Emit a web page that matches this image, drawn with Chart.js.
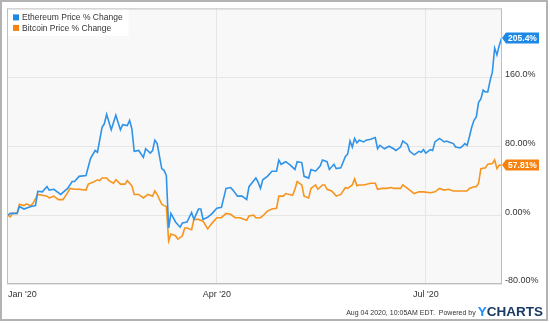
<!DOCTYPE html>
<html><head><meta charset="utf-8">
<script src="https://cdn.jsdelivr.net/npm/chart.js@4"></script>
<style>html,body{margin:0;padding:0;background:#fff;}canvas{display:block;}</style>
</head><body>
<canvas id="c" width="550" height="323"></canvas>
<script>
// Day index counted from Jan 1 2020
const ethDays = [0,1,4,5,7,10,12,13,15,17,18,20,23,26,28,29,31,34,36,38,39,41,42,43,45,47,49,50,52,53,54,55,57,59,60,62,63,64,65,67,68,69,70,71,73,75,76,78,80,81,83,84,85,87,89,91,93,95,97,98,100,102,104,105,108,109,110,111,113,115,117,118,119,121,123,125,126,128,129,131,132,134,136,137,139,140,142,143,145,147,148,149,150,151,152,153,155,156,158,160,161,162,164,166,168,169,171,172,174,175,177,179,180,181,182,184,185,186,188,190,191,192,194,195,197,198,199,200,201,202,203,204,205,206,207,208,209,210,211,212,213,214,215];
const ethValues = [0,2,2,10,7,10,11,27.6,27,33,29,30,24,31,39,39,45,46,66,75,73,102,106,117,99,116,99,105,104,110,100,74,75,67,77,72,75,87,83,54,52,46,-15,2,-8,-14,-9,-8,3,-5,7,7,-5,-2.6,2,8,9,31,32,29,22,22,18,33,43,38,31,41,45,51,51,64,59,62,58,53,62,61,45,43,53,51,57,64,62,53,59,54,55,68,71,86,79,89,84,87,85,87,88,90,77,81,77,80,77,75,79,86,82,74,70,74,73,76,72,76,75,85,89,85,86,85,83,79,78,80,83,81,91,102,110,114,131,135,145,143,143,156,166,194,186,197,205.4];
const btcDays = [0,1,2,4,5,7,8,10,11,13,15,17,18,20,22,24,26,27,29,31,34,35,37,39,40,41,43,44,46,47,49,51,52,54,55,57,59,61,63,64,65,67,68,69,70,71,73,74,76,77,78,80,81,83,85,87,89,91,93,95,97,99,101,104,105,107,108,110,111,113,115,117,118,120,121,124,125,126,128,129,131,132,134,135,137,138,139,141,143,145,147,148,150,151,152,153,155,158,160,161,163,165,167,168,171,172,174,175,177,179,181,184,186,188,190,192,194,197,200,201,203,204,205,206,208,209,211,212,213,214,215];
const btcValues = [0,-2,2,2,12.6,11,13,11,14,24,23,22,20,22,18,18,26,31,30,30,29,36,38,41,40,43,43,40,37,41,36,36,40,34,24,24,20,24,22,28,24,12.6,11,10,-30,-22,-24,-28,-24,-15,-15,-17,-5,-5,-7,-16,-9,-3,-3,2,1,-3,-3,-6,-1,0,-3,-3,-1,4.6,7,8,22,22,25,23,30,39,35,22,20,31,35,30,35,35,30,28,22,24,32,31,35,42,34,35,35,37,37,30,31,31,32,31,31,35,31,29,25,27,27,26,27,31,29,30,28,28,28,31,33,33,37,54,55,59,60,64,54,58,57.81];
const seriesNames = ['Ethereum Price % Change', 'Bitcoin Price % Change'];
const endLabels = ['205.4%', '57.81%'];
const xTickDays = [0, 91, 182, 215];
const xTickLabels = ["Jan '20", "Apr '20", "Jul '20", ""];
const yTickValues = [-80, 0, 80, 160];
const yTickLabels = ['-80.00%', '0.00%', '80.00%', '160.0%'];
const footerText = 'Aug 04 2020, 10:05AM EDT.  Powered by';

const lineColors = ['#2f93e8', '#f7941d'];
const badgeColors = ['#1e88e5', '#f5820f'];
const FONT = '"Liberation Sans", Arial, sans-serif';

const toPts = (d, v) => d.map((x, i) => ({x: x, y: v[i]}));

const decor = {
  id: 'decor',
  beforeDraw(chart) {
    const {ctx, chartArea: a} = chart;
    ctx.save();
    ctx.fillStyle = '#ffffff';
    ctx.fillRect(0, 0, chart.width, chart.height);
    ctx.fillStyle = '#f8f8f8';
    ctx.fillRect(a.left, a.top, a.right - a.left, a.bottom - a.top);
    ctx.restore();
  },
  afterDatasetsDraw(chart) {
    const {ctx, chartArea: a} = chart;
    ctx.save();
    // legend
    ctx.fillStyle = '#ffffff';
    ctx.fillRect(a.left + 0.5, a.top + 0.5, 121, 27);
    ctx.font = '8.5px ' + FONT;
    ctx.textBaseline = 'middle';
    ctx.textAlign = 'left';
    chart.data.datasets.forEach((ds, i) => {
      const y = a.top + 9 + i * 10.5;
      ctx.fillStyle = badgeColors[i];
      ctx.fillRect(a.left + 6, y - 3, 6, 6);
      ctx.fillStyle = '#333333';
      ctx.fillText(ds.label, a.left + 15, y + 0.5);
    });
    // plot border
    ctx.strokeStyle = '#bdbdbd';
    ctx.lineWidth = 1;
    ctx.strokeRect(a.left + 0.5, a.top + 0.5, a.right - a.left - 1, a.bottom - a.top - 1);
    // end badges
    const ys = chart.scales.y;
    chart.data.datasets.forEach((ds, i) => {
      const last = ds.data[ds.data.length - 1].y;
      const y = Math.round(ys.getPixelForValue(last));
      const x = a.right;
      const h = 11, w = 33;
      ctx.fillStyle = badgeColors[i];
      ctx.beginPath();
      ctx.moveTo(x, y);
      ctx.lineTo(x + 4, y - h / 2);
      ctx.lineTo(x + 4 + w, y - h / 2);
      ctx.lineTo(x + 4 + w, y + h / 2);
      ctx.lineTo(x + 4, y + h / 2);
      ctx.closePath();
      ctx.fill();
      ctx.fillStyle = '#ffffff';
      ctx.font = 'bold 8.5px ' + FONT;
      ctx.textAlign = 'center';
      ctx.textBaseline = 'middle';
      ctx.fillText(endLabels[i], x + 4 + w / 2, y + 0.5);
    });
    // footer
    ctx.textBaseline = 'alphabetic';
    ctx.font = 'bold 13.5px ' + FONT;
    const wY = ctx.measureText('Y').width;
    const wRest = ctx.measureText('CHARTS').width;
    const right = 543;
    const startX = right - wY - wRest;
    ctx.textAlign = 'left';
    ctx.fillStyle = '#1a8cff';
    ctx.fillText('Y', startX, 316);
    ctx.fillStyle = '#1b3a63';
    ctx.fillText('CHARTS', startX + wY, 316);
    ctx.font = '7px ' + FONT;
    ctx.fillStyle = '#333333';
    ctx.textAlign = 'right';
    ctx.fillText(footerText, startX - 2, 315);
    // outer frame
    ctx.strokeStyle = '#b3b3b3';
    ctx.lineWidth = 2;
    ctx.strokeRect(1, 1, 546, 319);
    ctx.restore();
  }
};

new Chart(document.getElementById('c'), {
  type: 'line',
  data: {
    datasets: [
      {label: seriesNames[0], data: toPts(ethDays, ethValues), borderColor: lineColors[0], borderWidth: 1.6, pointRadius: 0, tension: 0, fill: false},
      {label: seriesNames[1], data: toPts(btcDays, btcValues), borderColor: lineColors[1], borderWidth: 1.6, pointRadius: 0, tension: 0, fill: false}
    ]
  },
  options: {
    responsive: false,
    devicePixelRatio: 1,
    animation: false,
    layout: {padding: {left: 7, top: 6, right: 0, bottom: 0}},
    plugins: {legend: {display: false}, tooltip: {enabled: false}},
    scales: {
      x: {
        type: 'linear', min: -0.4, max: 215.2,
        afterBuildTicks: s => { s.ticks = xTickDays.map(v => ({value: v})); },
        afterFit: s => { s.height = 39; },
        grid: {color: '#e6e6e6', drawTicks: false},
        border: {display: false},
        ticks: {
          autoSkip: false, maxRotation: 0, align: 'inner', padding: 5,
          font: {family: FONT, size: 9}, color: '#333333',
          callback: (v, i) => xTickLabels[i]
        }
      },
      y: {
        position: 'right', min: -80, max: 240,
        afterBuildTicks: s => { s.ticks = yTickValues.map(v => ({value: v})); },
        afterFit: s => { s.width = 48; },
        grid: {color: '#e6e6e6', drawTicks: false},
        border: {display: false},
        ticks: {
          padding: 3, labelOffset: -3,
          font: {family: FONT, size: 9}, color: '#333333',
          callback: (v, i) => yTickLabels[i]
        }
      }
    }
  },
  plugins: [decor]
});
</script>
</body></html>
